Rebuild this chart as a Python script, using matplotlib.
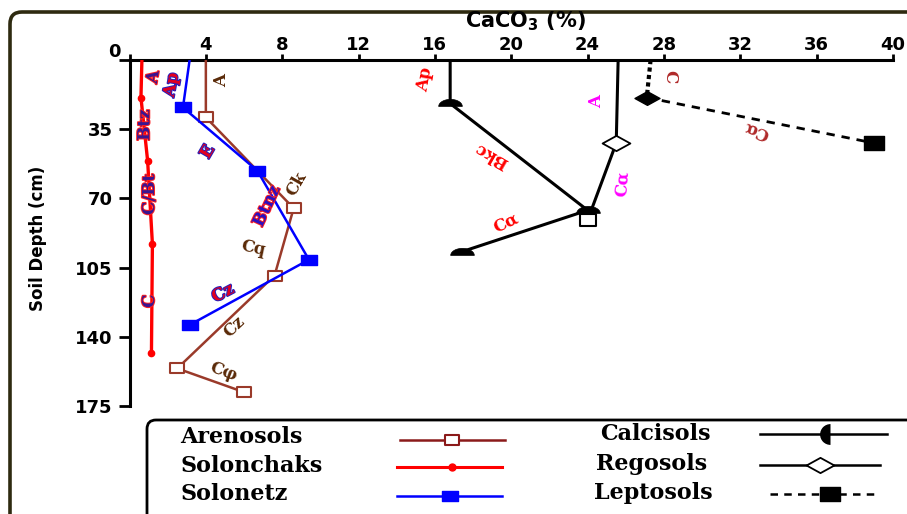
import matplotlib
matplotlib.use("Agg")
import matplotlib.pyplot as plt
import matplotlib.patheffects as pe
from matplotlib.path import Path
from matplotlib.lines import Line2D
from matplotlib.patches import FancyBboxPatch
import numpy as np

# ---------------- data ----------------
aren_x = [4.0, 4.0, 8.6, 7.6, 2.5, 6.0]
aren_d = [0, 29, 75, 109, 156, 168]
solc_x = [0.65, 0.6, 0.95, 1.2, 1.15]
solc_d = [0, 19, 51, 93, 148]
solz_x = [3.15, 2.8, 6.7, 9.4, 3.15]
solz_d = [0, 24, 56, 101, 134]
calc_x = [16.8, 16.8, 24.0, 17.4]
calc_d = [0, 22, 76, 97]
rego_x = [25.6, 25.5, 24.0]
rego_d = [0, 42, 81]
lept_x = [27.3, 27.1, 39.0]
lept_d = [0, 19, 42]

x_ticks = [0, 4, 8, 12, 16, 20, 24, 28, 32, 36, 40]
y_ticks = [0, 35, 70, 105, 140, 175]

legend_left = ["Arenosols", "Solonchaks", "Solonetz"]
legend_right = ["Calcisols", "Regosols", "Leptosols"]

# horizon labels: text, x, depth, rotation, style
labels = [
    ("A", 1.25, 8.6, 80, "purple"),
    ("Ap", 2.2, 12.6, 80, "redblue"),
    ("A", 4.85, 10.6, 90, "brown"),
    ("Btz", 0.8, 33, 90, "purple"),
    ("E", 4.1, 46.5, 60, "redblue"),
    ("C/Bt", 1.05, 68, 90, "purple"),
    ("C", 1.05, 122, 90, "purple"),
    ("Ck", 8.75, 62.5, 60, "brown"),
    ("Btnz", 7.2, 74, 65, "bluered"),
    ("Cq", 6.5, 95, -12, "brown"),
    ("Cz", 4.9, 118, 28, "redblue"),
    ("Cz", 5.5, 135, 44, "brown"),
    ("C\u03c6", 4.9, 157.5, -20, "brown"),
    ("Ap", 15.5, 10, 80, "red"),
    ("Bkc", 18.95, 48, 150, "red"),
    ("C\u03b1", 19.7, 82.5, 25, "red"),
    ("A", 24.45, 21, 90, "magenta"),
    ("C\u03b1", 25.85, 62.5, 85, "magenta"),
    ("C", 28.3, 8.4, -90, "firebrick"),
    ("C\u03b1", 32.85, 35.5, 160, "firebrick"),
]

W, H = 907, 514
fig = plt.figure(figsize=(W / 100, H / 100), dpi=100)


def fx(px):
    return px / W


def fy(py):
    return 1 - py / H


ax = fig.add_axes([fx(129.5), fy(406), fx(893) - fx(129.5), fy(60) - fy(406)])
ax.set_xlim(0, 40)
ax.set_ylim(175, 0)
ax.patch.set_alpha(0)

for s in ["right", "bottom"]:
    ax.spines[s].set_visible(False)
for s in ["left", "top"]:
    ax.spines[s].set_linewidth(2.2)
ax.xaxis.tick_top()
ax.set_xticks(x_ticks)
ax.set_xticklabels([""] + [str(t) for t in x_ticks[1:]])
ax.set_yticks(y_ticks)
ax.set_yticklabels([""] + [str(t) for t in y_ticks[1:]])
ax.tick_params(axis="x", direction="out", length=4, width=2, pad=0)
ax.tick_params(axis="y", direction="out", length=8, width=2, pad=4)
for lab in ax.get_xticklabels() + ax.get_yticklabels():
    lab.set_fontfamily("DejaVu Sans")
    lab.set_fontweight("bold")
    lab.set_fontsize(13)
fig.text(fx(114), fy(52), "0", ha="center", va="center",
         fontsize=13, fontweight="bold", family="DejaVu Sans")

# custom markers
t = np.linspace(0, np.pi, 30)
dome = Path(list(zip(np.cos(t), 0.6 * np.sin(t) - 0.25)) + [(-1, -0.25), (1, -0.25)], closed=True)
wdiam = Path([(-1, 0), (0, 0.55), (1, 0), (0, -0.55), (-1, 0)], closed=True)
wrect = Path([(-1, -0.7), (1, -0.7), (1, 0.7), (-1, 0.7), (-1, -0.7)], closed=True)

brown = "#9a3a2a"
ax.plot(aren_x, aren_d, color=brown, lw=1.8, marker=wrect, ms=10,
        mfc="white", mec=brown, mew=1.5, markevery=slice(1, None), zorder=3)
ax.plot(solc_x, solc_d, color="#ff0000", lw=2.4, marker="o", ms=4.5,
        markevery=slice(1, None), zorder=3)
ax.plot(solz_x, solz_d, color="#0000ff", lw=1.8, marker=wrect, ms=11,
        mfc="#0000ff", mec="#0000ff", markevery=slice(1, None), zorder=4)
ax.plot(calc_x, calc_d, color="black", lw=2.2, marker=dome, ms=17,
        mfc="black", mec="black", mew=0.5, markevery=slice(1, None), zorder=3)
ax.plot(rego_x, rego_d, color="black", lw=2.2, zorder=3)
ax.plot(rego_x[1:2], rego_d[1:2], ls="none", marker=wdiam, ms=20,
        mfc="white", mec="black", mew=1.3, zorder=4)
ax.plot(rego_x[2:], rego_d[2:], ls="none", marker=wrect, ms=12,
        mfc="white", mec="black", mew=1.5, zorder=4)
ax.plot(lept_x[:2], lept_d[:2], color="black", lw=3, ls=(0, (1, 0.8)), zorder=3)
ax.plot(lept_x[1:], lept_d[1:], color="black", lw=2, ls=(0, (3, 2.5)), zorder=3)
ax.plot(lept_x[1:2], lept_d[1:2], ls="none", marker=wdiam, ms=18,
        mfc="black", mec="black", zorder=4)
ax.plot(lept_x[2:], lept_d[2:], ls="none", marker=wrect, ms=14,
        mfc="black", mec="black", zorder=4)

styles = {
    "purple": dict(color="#3a1590", path_effects=[pe.withStroke(linewidth=1.4, foreground="#ff2020")]),
    "redblue": dict(color="#e00020", path_effects=[pe.withStroke(linewidth=1.4, foreground="#2020c0")]),
    "bluered": dict(color="#2a10c0", path_effects=[pe.withStroke(linewidth=1.4, foreground="#ff2020")]),
    "brown": dict(color="#5a2a08"),
    "red": dict(color="#ff0000"),
    "magenta": dict(color="#ff00ff"),
    "firebrick": dict(color="#b02a2a"),
}
for txt, x, d, rot, st in labels:
    ax.text(x, d, txt, rotation=rot, ha="center", va="center",
            fontsize=12, fontweight="bold", family="DejaVu Serif",
            rotation_mode="anchor", zorder=5, **styles[st])

fig.text(fx(38), fy(238), "Soil Depth (cm)", rotation=90, ha="center", va="center",
         fontsize=12, fontweight="bold", family="DejaVu Sans")
fig.text(fx(525), fy(21), r"CaCO$_\mathbf{3}$ (%)", ha="center", va="center",
         fontsize=15, fontweight="bold", family="DejaVu Sans")

# outer frame and legend box (pixel based, in inches)
tr = fig.dpi_scale_trans
frame = FancyBboxPatch((10 / 100, (H - 540) / 100), 915 / 100, 528 / 100,
                       boxstyle="round,pad=0,rounding_size=0.12", transform=tr,
                       fill=False, ec="#2e2a10", lw=2.6, clip_on=False)
fig.add_artist(frame)
lbox = FancyBboxPatch((147 / 100, (H - 540) / 100), 780 / 100, 120 / 100,
                      boxstyle="round,pad=0,rounding_size=0.09", transform=tr,
                      fill=False, ec="black", lw=2.0, clip_on=False)
fig.add_artist(lbox)


# legend (drawn manually in pixel coordinates)
def P(px, py):
    return px / 100, (H - py) / 100


def leg_line(x0, x1, y, xm, line_kw, mark_kw):
    (a, b), (c, _) = P(x0, y), P(x1, y)
    fig.add_artist(Line2D([a, c], [b, b], transform=tr, **line_kw))
    m, n = P(xm, y)
    fig.add_artist(Line2D([m], [n], transform=tr, ls="none", **mark_kw))


legfont = dict(family="DejaVu Serif", fontweight="bold", fontsize=16)
for name, y in zip(legend_left, [437, 466, 494]):
    fig.text(fx(180), fy(y), name, ha="left", va="center", **legfont)
for name, (x, y) in zip(legend_right, [(600, 434), (596, 464), (594, 493)]):
    fig.text(fx(x), fy(y), name, ha="left", va="center", **legfont)

leg_line(400, 505, 440, 452, dict(color="#8b1a1a", lw=1.8),
         dict(marker=wrect, ms=10, mfc="white", mec="#8b1a1a", mew=1.5))
leg_line(397, 502, 467, 452, dict(color="#ff0000", lw=2.2),
         dict(marker="o", ms=5, color="#ff0000"))
leg_line(397, 502, 496, 450, dict(color="#0000ff", lw=1.8),
         dict(marker=wrect, ms=11, mfc="#0000ff", mec="#0000ff"))
leg_line(760, 887, 434, 830, dict(color="black", lw=1.8),
         dict(marker="o", ms=15, fillstyle="left", mfc="black",
              markerfacecoloralt="none", mew=0))
leg_line(760, 880, 465, 820, dict(color="black", lw=1.8),
         dict(marker=wdiam, ms=20, mfc="white", mec="black", mew=1.3))
leg_line(770, 880, 494, 830, dict(color="black", lw=1.8, ls=(0, (3, 2.5))),
         dict(marker=wrect, ms=14, mfc="black", mec="black"))

fig.savefig("out.png", dpi=100)
